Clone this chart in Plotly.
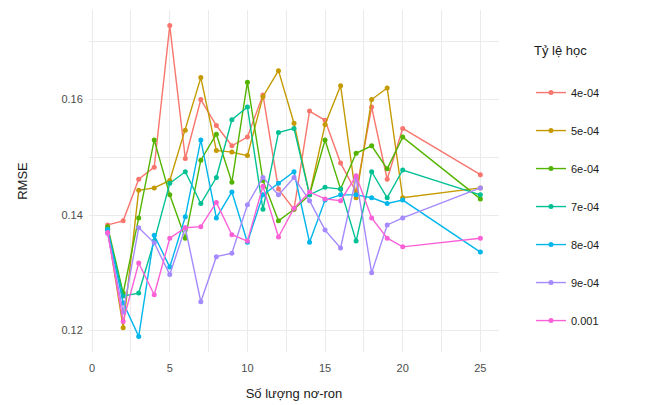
import plotly.graph_objects as go

neurons = [1, 2, 3, 4, 5, 6, 7, 8, 9, 10, 11, 12, 13, 14, 15, 16, 17, 18, 19, 20, 25]

rate_labels = ["4e-04", "5e-04", "6e-04", "7e-04", "8e-04", "9e-04", "0.001"]
colors = ["#F8766D", "#C49A00", "#53B400", "#00C094", "#00B6EB", "#A58AFF", "#FB61D7"]
legend_title = "Tỷ lệ học"

rmse_4e04 = [0.1383, 0.1390, 0.1462, 0.1483, 0.1728, 0.1498, 0.1600, 0.1555, 0.1520, 0.1535, 0.1608,
             0.1445, 0.1410, 0.1580, 0.1564, 0.1490, 0.1440, 0.1587, 0.1462, 0.1550, 0.1470]
rmse_5e04 = [0.1375, 0.1205, 0.1443, 0.1447, 0.1460, 0.1547, 0.1638, 0.1512, 0.1509, 0.1503, 0.1605,
             0.1650, 0.1559, 0.1435, 0.1557, 0.1624, 0.1430, 0.1600, 0.1620, 0.1430, 0.1447]
rmse_6e04 = [0.1380, 0.1265, 0.1395, 0.1530, 0.1435, 0.1360, 0.1495, 0.1540, 0.1457, 0.1630, 0.1460,
             0.1390, 0.1410, 0.1435, 0.1530, 0.1445, 0.1507, 0.1520, 0.1480, 0.1535, 0.1428]
rmse_7e04 = [0.1375, 0.1260, 0.1265, 0.1355, 0.1455, 0.1475, 0.1420, 0.1465, 0.1565, 0.1587, 0.1410,
             0.1543, 0.1550, 0.1435, 0.1448, 0.1445, 0.1355, 0.1475, 0.1430, 0.1478, 0.1435]
rmse_8e04 = [0.1375, 0.1248, 0.1190, 0.1365, 0.1310, 0.1397, 0.1530, 0.1395, 0.1440, 0.1353, 0.1435,
             0.1455, 0.1475, 0.1353, 0.1426, 0.1435, 0.1435, 0.1430, 0.1420, 0.1426, 0.1336]
rmse_9e04 = [0.1368, 0.1232, 0.1378, 0.1352, 0.1297, 0.1378, 0.1250, 0.1328, 0.1334, 0.1418, 0.1465,
             0.1435, 0.1465, 0.1425, 0.1374, 0.1343, 0.1465, 0.1300, 0.1383, 0.1395, 0.1447]
rmse_1e03 = [0.1370, 0.1216, 0.1317, 0.1262, 0.1360, 0.1378, 0.1380, 0.1422, 0.1366, 0.1355, 0.1450,
             0.1362, 0.1412, 0.1440, 0.1428, 0.1425, 0.1468, 0.1395, 0.1360, 0.1345, 0.1360]

series = [rmse_4e04, rmse_5e04, rmse_6e04, rmse_7e04, rmse_8e04, rmse_9e04, rmse_1e03]

x_ticks = [0, 5, 10, 15, 20, 25]
y_ticks = [0.12, 0.14, 0.16]
y_tick_text = ["0.12", "0.14", "0.16"]

fig = go.Figure()
for lab, col, vals in zip(rate_labels, colors, series):
    fig.add_trace(go.Scatter(
        x=neurons, y=vals, mode="lines+markers", name=lab,
        legendgroup=lab,
        line=dict(color=col, width=1.4),
        marker=dict(color=col, size=5),
    ))

font_family = "Liberation Sans, Arial, sans-serif"
grid = "#ebebeb"

fig.add_annotation(
    text=legend_title, xref="paper", yref="paper", x=1.0805, y=0.883,
    xanchor="left", yanchor="middle", showarrow=False,
    font=dict(size=13, color="#1a1a1a"),
)

fig.update_layout(
    width=638, height=397,
    margin=dict(l=81, r=147, t=2, b=53),
    paper_bgcolor="white", plot_bgcolor="white",
    font=dict(family=font_family, size=11, color="#4d4d4d"),
    showlegend=True,
    legend=dict(
        x=1.078, xanchor="left", y=0.801, yanchor="top",
        font=dict(size=11, color="#1a1a1a"),
        tracegroupgap=19,
        bgcolor="rgba(0,0,0,0)",
    ),
    xaxis=dict(
        range=[-0.2, 26.2], tickmode="array", tickvals=x_ticks,
        showgrid=True, gridcolor=grid, gridwidth=1.1,
        zeroline=False, showline=False, ticks="outside", ticklen=6,
        tickcolor="rgba(0,0,0,0)", automargin=False,
        minor=dict(tickmode="array", tickvals=[2.5, 7.5, 12.5, 17.5, 22.5],
                   showgrid=True, gridcolor=grid, gridwidth=0.6),
        title=dict(text="Số lượng nơ-ron", font=dict(size=13, color="#1a1a1a"), standoff=15),
        tickfont=dict(size=11, color="#4d4d4d"),
    ),
    yaxis=dict(
        range=[0.1163, 0.1755], tickmode="array", tickvals=y_ticks, ticktext=y_tick_text,
        showgrid=True, gridcolor=grid, gridwidth=1.1,
        zeroline=False, showline=False, ticks="outside", ticklen=3,
        tickcolor="rgba(0,0,0,0)", automargin=False,
        minor=dict(tickmode="array", tickvals=[0.13, 0.15, 0.17],
                   showgrid=True, gridcolor=grid, gridwidth=0.6),
        title=dict(text="RMSE", font=dict(size=13, color="#1a1a1a"), standoff=30),
        tickfont=dict(size=11, color="#4d4d4d"),
    ),
)

fig.write_html("out.html")
